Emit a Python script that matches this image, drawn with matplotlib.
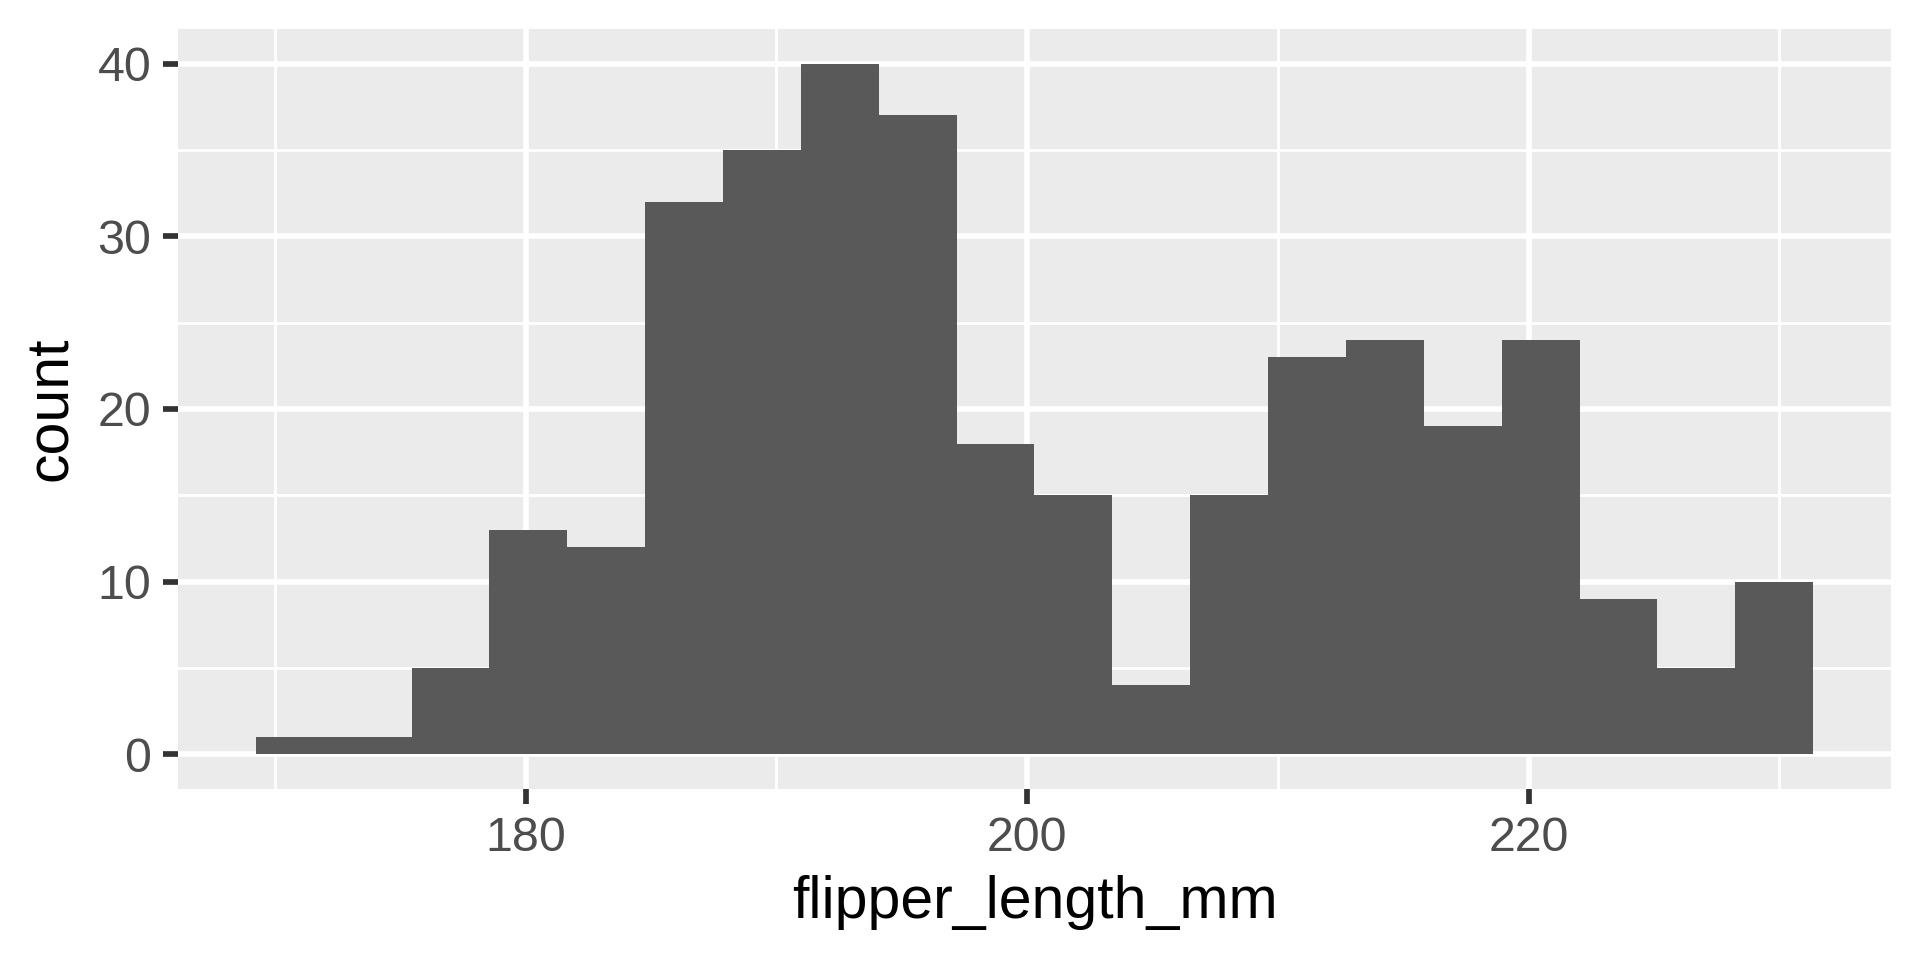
import matplotlib
matplotlib.use("Agg")
import matplotlib.pyplot as plt
from matplotlib.ticker import FixedLocator

plt.rcParams['font.family'] = ['Liberation Sans', 'DejaVu Sans']

# histogram bins (ggplot bins = 20) and counts
bin_edges = [169.237, 172.342, 175.447, 178.553, 181.658, 184.763, 187.868,
             190.974, 194.079, 197.184, 200.289, 203.395, 206.500, 209.605,
             212.711, 215.816, 218.921, 222.026, 225.132, 228.237, 231.342]
counts = [1, 1, 5, 13, 12, 32, 35, 40, 37, 18, 15, 4, 15, 23, 24, 19, 24, 9, 5, 10]

x_major = [180, 200, 220]
x_minor = [170, 190, 210, 230]
y_major = [0, 10, 20, 30, 40]
y_minor = [5, 15, 25, 35]

fig = plt.figure(figsize=(19.2, 9.6), dpi=100)
ax = fig.add_axes([178/1920, 1 - 789/960, (1891-178)/1920, (789-29)/960])
ax.set_facecolor('#EBEBEB')
for s in ax.spines.values():
    s.set_visible(False)

ax.stairs(counts, bin_edges, fill=True, color='#595959', linewidth=0, zorder=3)

xr = bin_edges[-1] - bin_edges[0]
ax.set_xlim(bin_edges[0] - 0.05 * xr, bin_edges[-1] + 0.05 * xr)
ymax = max(counts)
ax.set_ylim(-0.05 * ymax, ymax * 1.05)

ax.xaxis.set_major_locator(FixedLocator(x_major))
ax.xaxis.set_minor_locator(FixedLocator(x_minor))
ax.yaxis.set_major_locator(FixedLocator(y_major))
ax.yaxis.set_minor_locator(FixedLocator(y_minor))
ax.set_axisbelow(True)
ax.grid(which='major', color='white', linewidth=4.1, zorder=1)
ax.grid(which='minor', color='white', linewidth=2.05, zorder=1)

ax.tick_params(which='major', length=10.6, width=4.1, color='#333333',
               labelsize=34.8, labelcolor='#4D4D4D', pad=8.7)
ax.tick_params(which='minor', length=0, width=0)

ax.set_xlabel('flipper_length_mm', fontsize=42.5, color='black', labelpad=10)
ax.set_ylabel('count', fontsize=42.5, color='black', labelpad=13)

fig.savefig('out.png', dpi=100, facecolor='white')
